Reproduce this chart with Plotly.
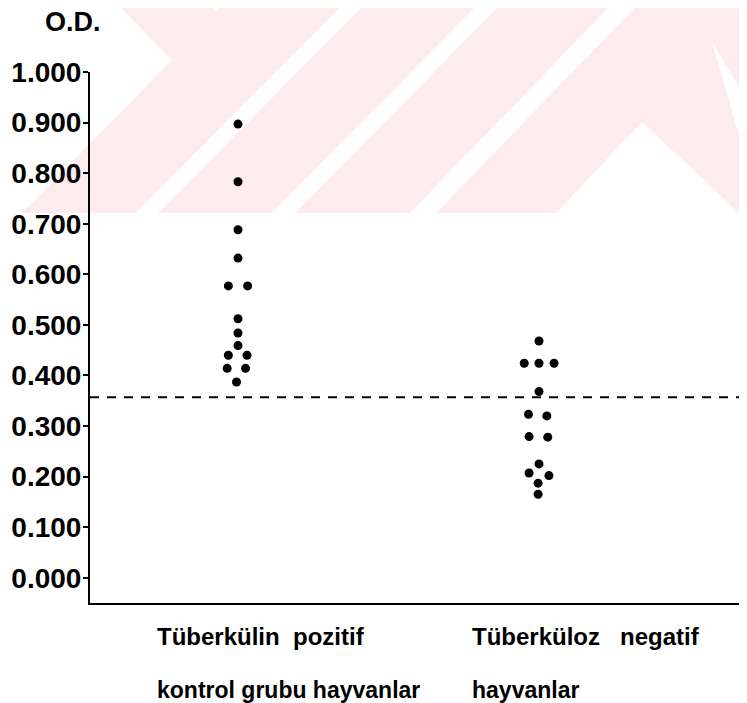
import plotly.graph_objects as go

# ---------------- data ----------------
group_names = ["Tüberkülin pozitif kontrol grubu hayvanlar", "Tüberküloz negatif hayvanlar"]
label_lines_pos = ["Tüberkülin\u00a0 pozitif", "kontrol grubu hayvanlar"]
label_lines_neg = ["Tüberküloz\u00a0 \u00a0negatif", "hayvanlar"]

pos_values = [0.897, 0.783, 0.688, 0.632, 0.577, 0.577, 0.512, 0.484, 0.459,
              0.440, 0.440, 0.414, 0.414, 0.387]
pos_offsets = [0.0, 0.0, 0.0, 0.0, -0.032, 0.032, 0.0, 0.0, 0.0,
               -0.032, 0.030, -0.036, 0.025, -0.005]

neg_values = [0.468, 0.424, 0.424, 0.424, 0.368, 0.323, 0.320, 0.279, 0.278,
              0.225, 0.207, 0.202, 0.187, 0.165]
neg_offsets = [0.0, -0.049, 0.0, 0.050, 0.0, -0.035, 0.026, -0.033, 0.029,
               0.0, -0.033, 0.033, -0.003, -0.003]

cutoff = 0.357
y_ticks = [0.0, 0.1, 0.2, 0.3, 0.4, 0.5, 0.6, 0.7, 0.8, 0.9, 1.0]
y_title = "O.D."

# ---------------- layout geometry ----------------
OFF = 8  # default page body margin
W, H = 747 - OFF, 703 - OFF
L, R, T, B = 90 - OFF, 0, 72 - OFF, 100
PW, PH = W - L - R, H - T - B


def paper(px, py):
    """window pixel -> paper coords"""
    return (px - OFF - L) / PW, 1 - (py - OFF - T) / PH


FONT = "Liberation Sans, Arial, sans-serif"

fig = go.Figure()
fig.add_trace(go.Scatter(
    x=[0 + o for o in pos_offsets], y=pos_values, mode="markers",
    marker=dict(color="black", size=9), name=group_names[0], showlegend=False))
fig.add_trace(go.Scatter(
    x=[1 + o for o in neg_offsets], y=neg_values, mode="markers",
    marker=dict(color="black", size=9), name=group_names[1], showlegend=False))

shapes = []


def poly(points, color):
    pts = [paper(x, y) for x, y in points]
    path = "M " + " L ".join(f"{a:.5f},{b:.5f}" for a, b in pts) + " Z"
    return dict(type="path", xref="paper", yref="paper", path=path,
                fillcolor=color, line=dict(width=0), layer="below")


# light pink watermark stripes
PINK = "#fdebee"
shapes.append(poly([(0, 0), (747, 0), (747, 213), (0, 213)], PINK))
for p in [
    [(0, 0), (113, 0), (172, 60), (22, 213), (0, 213)],
    [(209, 0), (223, 0), (216, 12)],
    [(347, 0), (369, 0), (158, 213), (136, 213)],
    [(482, 0), (505, 0), (295, 213), (272, 213)],
    [(616, 0), (642, 0), (436, 213), (410, 213)],
    [(642, 122), (556, 213), (739, 213)],
    [(712, 42), (747, 100), (747, 148), (738, 132)],
]:
    shapes.append(poly(p, "white"))

shapes.append(dict(type="line", xref="paper", x0=0, x1=1, yref="y", y0=cutoff, y1=cutoff,
                   line=dict(color="black", width=2, dash="9px,8px"), layer="below"))

annotations = []
tx, ty = paper(43, 22)
annotations.append(dict(text=y_title, xref="paper", yref="paper", x=tx, y=ty,
                        xanchor="left", yanchor="middle", showarrow=False,
                        font=dict(family=FONT, size=27, color="black", weight="bold")))
for left, lines in [(155, label_lines_pos), (470, label_lines_neg)]:
    for py, txt, fs in zip([636, 690], lines, [24, 23]):
        ax, ay = paper(left, py)
        annotations.append(dict(text=txt, xref="paper", yref="paper", x=ax, y=ay,
                                xanchor="left", yanchor="middle", showarrow=False,
                                font=dict(family=FONT, size=fs, color="black", weight="bold")))

fig.update_layout(
    width=W, height=H,
    margin=dict(l=L, r=R, t=T, b=B, pad=0),
    paper_bgcolor="white", plot_bgcolor="rgba(0,0,0,0)",
    shapes=shapes, annotations=annotations,
    xaxis=dict(range=[-148 / 301, 509 / 301], showgrid=False, zeroline=False,
               showticklabels=False, ticks="", showline=True, linecolor="black",
               linewidth=2),
    yaxis=dict(range=[-0.05, 1.0], tickvals=y_ticks, tickformat=".3f",
               showgrid=False, zeroline=False, showline=True, linecolor="black",
               linewidth=2, ticks="outside", ticklen=5, tickwidth=2, tickcolor="black",
               ticklabelstandoff=-4,
               tickfont=dict(family=FONT, size=28, color="black", weight="bold")),
)

fig.write_html("out.html")
